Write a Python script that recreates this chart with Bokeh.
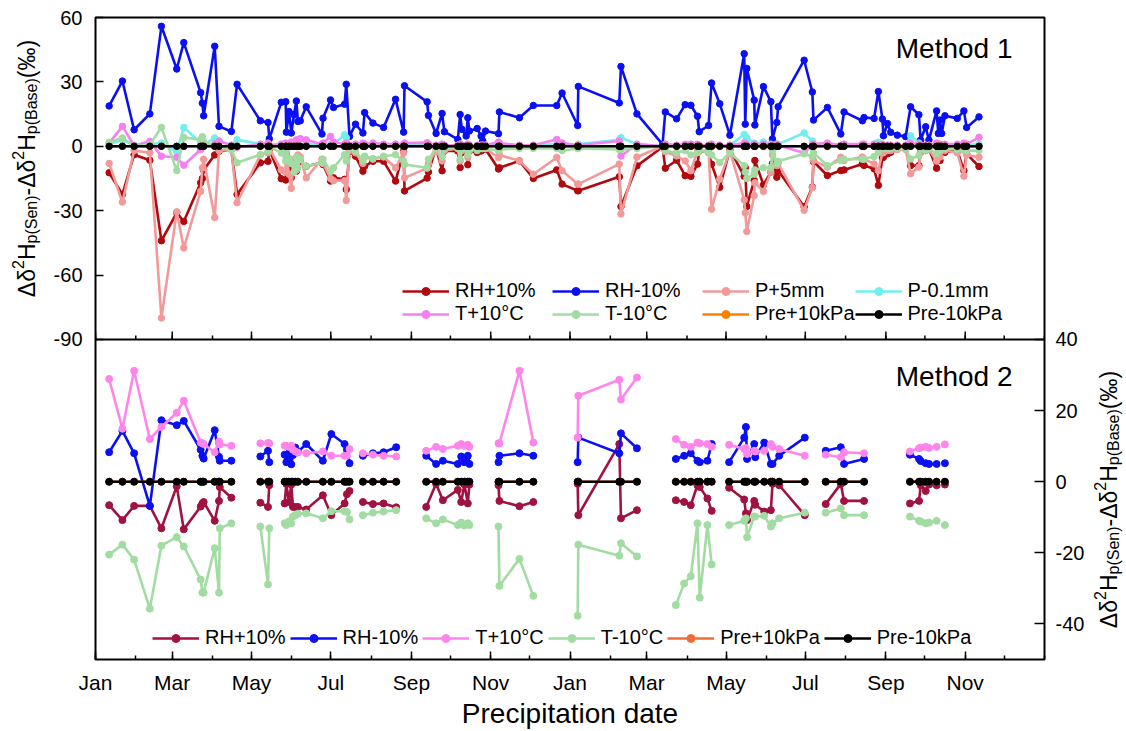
import numpy as np
import pandas as pd
from bokeh.plotting import figure
from bokeh.layouts import row
from bokeh.models import (Range1d, LinearAxis, FixedTicker, DatetimeTickFormatter,
                          CustomJSTickFormatter, Span, Label, Legend, LegendItem)
from bokeh.embed import file_html
from bokeh.resources import INLINE

FONT = "Liberation Sans"

# ---------------- data: Method 1 (days since 2017-01-01) ----------------
days_m1 = [10.5, 20.7, 29.7, 41.8, 50.7, 62.5, 67.9, 80.9, 82.2, 83.2,
           91.7, 95.0, 104.5, 108.9, 126.8, 132.7, 133.7, 142.9, 146.3, 146.8,
           148.9, 150.6, 152.7, 154.5, 155.7, 157.5, 162.1, 174.2, 175.0, 180.8,
           183.1, 191.6, 192.9, 195.4, 200.0, 205.7, 207.0, 213.4, 221.6, 230.8,
           237.0, 237.7, 255.1, 256.1, 262.0, 266.6, 268.4, 278.7, 280.5, 281.8,
           285.1, 286.4, 287.6, 293.6, 296.6, 297.9, 300.0, 310.0, 310.7, 326.1,
           336.8, 354.8, 358.9, 370.9, 371.4, 402.9, 404.2, 416.5, 436.2, 438.3,
           447.0, 453.6, 458.0, 463.1, 464.4, 471.6, 473.9, 480.2, 488.0, 499.0,
           499.8, 501.0, 506.7, 507.2, 513.8, 519.5, 520.7, 524.1, 525.1, 545.1,
           551.4, 552.3, 563.0, 573.3, 575.8, 589.9, 591.2, 598.9, 602.2, 605.3,
           606.1, 609.2, 611.7, 616.8, 623.2, 627.0, 633.4, 634.7, 638.6, 641.1,
           647.0, 648.3, 649.6, 650.9, 653.4, 662.9, 668.0, 670.1, 679.6]

rh_plus_m1 = [-12.3, -22.4, -3.9, -6.5, -44.0, -31.0, -35.0, -17.0, -15.0, -11.0,
              -4.0, -2.3, -1.5, -22.4, -7.7, -7.0, -1.5, -15.1, -15.7, -3.9,
              -10.8, -14.6, -9.3, -11.6, -6.2, -7.0, -9.3, -7.7, -8.5, -16.2,
              -14.7, -15.4, -20.1, -2.3, -4.6, -11.6, -9.3, -7.0, -7.0, -16.2,
              -2.3, -20.8, -14.8, -12.0, -0.6, -11.4, -2.2, -2.2, -9.9, -2.9,
              -1.4, -8.6, -2.2, -2.9, -2.2, -1.4, -1.4, -10.6, -10.0, -6.8,
              -15.0, -11.0, -17.6, -20.7, -20.7, -14.2, -28.1, -9.1, -0.3, -10.2,
              -6.5, -13.7, -14.0, -8.3, -2.2, -2.9, -8.3, -19.1, -1.4, -14.0,
              -10.0, -28.0, -15.9, -6.6, -18.0, -12.0, -8.0, -14.4, -11.3, -28.2,
              -19.0, -7.1, -13.6, -11.3, -11.0, -8.2, -8.9, -10.5, -18.2, -5.4,
              -5.1, -3.5, -2.8, -1.2, -1.2, -9.0, -9.0, -2.8, -2.0, -1.2,
              -10.2, -3.5, -6.6, -2.0, -2.8, -2.0, -11.3, -3.5, -9.4]

rh_minus_m1 = [18.8, 30.4, 7.7, 15.1, 55.9, 36.0, 48.3, 25.0, 20.1, 14.2,
               46.6, 9.3, 6.9, 28.9, 11.9, 11.1, 3.5, 20.5, 20.8, 6.6,
               16.2, 6.2, 14.7, 21.1, 11.6, 11.9, 18.4, 5.7, 13.1, 21.6,
               18.1, 19.6, 28.9, 4.6, 10.3, 6.2, 15.7, 10.8, 8.8, 21.9,
               6.6, 28.2, 20.7, 14.4, 6.0, 15.3, 6.8, 3.2, 14.8, 7.9,
               4.8, 13.3, 7.1, 8.3, 4.8, 2.5, 7.1, 5.9, 16.0, 13.3,
               19.0, 19.0, 24.8, 9.7, 27.9, 20.2, 37.2, 15.1, 0.9, 16.0,
               12.8, 19.4, 19.1, 14.0, 6.8, 9.7, 29.5, 19.8, 5.2, 43.1,
               10.3, 36.3, 21.5, 9.9, 27.8, 20.8, 3.4, 11.1, 18.4, 40.1,
               25.3, 12.2, 18.1, 5.7, 16.0, 11.9, 13.4, 13.0, 25.5, 12.7,
               4.9, 10.6, 6.5, 5.2, 4.5, 18.4, 14.7, 2.9, 9.1, 2.9,
               16.5, 6.0, 12.2, 6.0, 14.2, 13.0, 16.5, 8.8, 13.7]

p_plus_m1 = [-8.0, -26.0, -2.0, -3.0, -80.0, -30.5, -47.4, -21.0, -10.0, -6.0,
             -33.2, -2.0, -1.5, -26.3, -4.0, -3.0, -1.0, -11.0, -12.0, -3.0,
             -13.0, -19.6, -6.0, -11.0, -4.0, -5.0, -14.7, -6.0, -8.0, -15.0,
             -16.0, -16.0, -25.2, -2.0, -3.0, -8.0, -5.0, -6.0, -5.0, -10.0,
             -3.0, -14.7, -10.2, -8.0, -2.0, -6.8, -2.0, -1.0, -6.8, -2.0,
             -1.0, -5.2, -2.0, -1.0, -1.0, -1.0, -1.0, -5.2, -4.0, -6.8,
             -13.0, -5.2, -11.4, -17.6, -17.6, -8.3, -31.5, -5.0, 0.0, -2.5,
             -4.5, -6.8, -11.4, -2.2, -2.0, -2.0, -29.3, -15.3, -2.2, -25.0,
             -31.0, -39.7, -23.0, -17.0, -21.0, -12.0, -4.0, -9.0, -8.0, -29.8,
             -19.3, -6.6, -9.7, -5.1, -6.6, -5.0, -6.0, -8.2, -11.3, -3.0,
             -3.0, -2.0, -2.0, -1.5, -1.5, -12.8, -9.7, -3.0, -1.5, -1.5,
             -6.9, -4.0, -5.0, -2.0, -2.0, -3.0, -13.9, -4.0, -5.1]

p_minus_m1 = [1.0, 3.0, 0.5, 1.0, 1.5, -2.6, 8.8, 1.5, 2.3, 0.5,
              3.9, 2.6, 0.5, 3.1, 1.0, 1.0, 0.5, 1.0, 1.0, 0.5,
              1.0, 0.5, 1.0, 1.0, 0.5, 3.5, 1.5, 0.5, 1.0, 1.0,
              1.0, 5.4, 4.0, 0.5, 1.0, 0.5, 1.0, 1.0, 0.5, 1.0,
              0.5, 1.0, 1.0, 1.0, 0.5, 1.0, 0.5, 0.5, 1.0, 0.5,
              0.5, 1.0, 0.5, 0.5, 0.5, 0.5, 0.5, 1.0, 1.0, 0.5,
              0.5, 1.0, 1.5, 0.5, 1.0, 3.0, 4.0, 1.0, 0.0, 1.0,
              0.5, 0.5, 1.0, 0.5, 0.5, 0.5, 1.0, 0.5, 0.5, 5.5,
              2.0, 4.0, 1.5, 1.0, 2.0, 1.0, 0.5, 1.0, 1.0, 6.2,
              2.5, 1.0, 1.0, 0.5, 1.0, 0.5, 0.5, 1.0, 1.9, 0.5,
              0.5, 0.5, 0.5, 0.5, 0.5, 4.9, 1.5, 0.5, 0.5, 0.5,
              1.0, 0.5, 0.5, 0.5, 0.5, 0.5, 1.0, 0.5, 1.0]

t_plus_m1 = [1.5, 9.3, 0.3, 2.3, -4.6, -5.1, -8.8, -1.5, 0.0, 0.0,
             1.1, 2.3, 0.5, -0.5, 1.0, 1.5, 0.5, 1.0, 1.5, 0.5,
             1.0, 2.0, 1.5, 3.0, 1.0, 3.5, 3.0, 1.0, 1.5, 4.6,
             2.0, 1.0, 1.5, 0.5, 1.0, 1.5, 1.0, 1.5, 1.0, 1.0,
             1.0, 1.5, 1.7, 1.0, 0.5, 1.0, 0.5, 0.5, 1.0, 0.5,
             0.5, 1.0, 0.5, 0.5, 0.5, 0.5, 0.5, 2.0, 1.5, 0.5,
             0.5, 3.2, 1.5, 0.5, 0.5, 2.5, -4.5, 1.0, 0.0, 1.0,
             0.5, 1.0, 1.0, 1.0, 0.5, 0.5, 1.0, 0.5, 0.5, 1.5,
             0.5, 1.0, 1.0, 0.5, 1.0, 0.5, 0.5, 1.0, 0.5, -3.1,
             0.5, 1.0, 1.5, 0.5, 1.0, 1.0, 1.0, 1.0, 0.5, 1.0,
             0.5, 0.5, 0.5, 0.5, 0.5, 1.5, 1.0, 0.5, 0.5, 0.5,
             1.5, 0.5, 1.0, 0.5, 1.0, 1.0, 1.5, 1.0, 4.2]

t_minus_m1 = [1.9, 3.9, 0.0, 0.8, 8.8, -11.3, 4.2, 3.0, 4.5, 2.0,
              0.0, 0.0, -1.5, -7.7, -3.9, -2.3, 0.0, -3.1, -6.9, -1.0,
              -5.7, -8.0, -12.0, -5.0, -10.0, -6.0, -9.3, -7.7, -6.0, -11.6,
              -10.0, -3.9, -6.9, -0.8, -2.3, -6.9, -4.6, -5.7, -4.6, -3.9,
              -6.9, -8.5, -10.0, -6.0, -1.0, -5.0, -1.0, -1.0, -6.0, -1.0,
              -1.0, -4.0, -1.5, -2.0, -1.0, -1.0, -1.0, -2.0, -1.5, -1.0,
              -1.0, -1.0, -2.0, -1.0, -1.0, -1.5, -1.5, -1.0, 0.0, -2.0,
              -3.0, -2.0, -4.0, -3.0, -2.0, -3.0, -4.0, -7.6, -3.0, -9.0,
              -12.0, -15.0, -13.0, -11.0, -10.0, -10.0, -2.0, -8.0, -7.0, -3.5,
              -4.8, -3.0, -9.0, -6.6, -6.0, -6.0, -5.9, -4.8, -2.8, -1.0,
              -1.0, -1.0, -1.0, -1.0, -1.0, -5.9, -4.3, -1.0, -2.0, -1.0,
              -3.5, -2.0, -2.0, -1.0, -1.0, -1.5, -2.0, -2.0, -2.0]

pre_plus_m1 = [0.0, 0.0, 0.0, 0.0, 0.0, 0.0, 0.0, 0.0, 0.0, 0.0,
               0.0, 0.0, 0.0, 0.0, 0.0, 0.0, 0.0, 0.0, 0.0, 0.0,
               0.0, 0.0, 0.0, 0.0, 0.0, 0.0, 0.0, 0.0, 0.0, 0.0,
               0.0, 0.0, 0.0, 0.0, 0.0, 0.0, 0.0, 0.0, 0.0, 0.0,
               0.0, 0.0, 0.0, 0.0, 0.0, 0.0, 0.0, 0.0, 0.0, 0.0,
               0.0, 0.0, 0.0, 0.0, 0.0, 0.0, 0.0, 0.0, 0.0, 0.0,
               0.0, 0.0, 0.0, 0.0, 0.0, 0.0, 0.0, 0.0, 0.0, 0.0,
               0.0, 0.0, 0.0, 0.0, 0.0, 0.0, 0.0, 0.0, 0.0, 0.0,
               0.0, 0.0, 0.0, 0.0, 0.0, 0.0, 0.0, 0.0, 0.0, 0.0,
               0.0, 0.0, 0.0, 0.0, 0.0, 0.0, 0.0, 0.0, 0.0, 0.0,
               0.0, 0.0, 0.0, 0.0, 0.0, 0.0, 0.0, 0.0, 0.0, 0.0,
               0.0, 0.0, 0.0, 0.0, 0.0, 0.0, 0.0, 0.0, 0.0]
pre_minus_m1 = list(pre_plus_m1)

# ---------------- data: Method 2 (None marks a gap between runs) ----------------
days_m2 = [10.5, 20.7, 29.7, 41.8, 50.7, 62.5, 67.9, 80.9, 82.2, 83.2, 91.7, 95.0, 95.6, 104.5, None,
           126.8, 132.7, 133.7, None,
           145.5, 146.8, 148.8, 150.6, 151.9, 153.7, 155.7, 162.1, 174.9, 181.4, 191.6, 193.4, 195.4, None,
           205.7, 213.4, 221.6, 231.3, None,
           254.4, 262.0, 267.2, 278.7, 281.3, 283.8, 286.4, 287.6, None,
           310.0, 310.7, 326.1, 336.8, None,
           370.9, 371.4, 402.9, 404.2, 416.5, None,
           446.4, 452.8, 457.9, 463.0, 464.8, 470.7, 474.0, None,
           487.4, 499.0, 500.3, 501.2, 506.7, 507.5, 514.4, 519.5, 520.8, 525.9, 545.6, None,
           561.7, 573.3, 575.8, 591.2, None,
           626.5, 633.5, 634.8, 638.6, 641.2, 647.0, None,
           653.4]

rh_plus_m2 = [-6.6, -10.8, -6.8, -6.8, -13.1, -1.3, -13.4, -7.0, -6.1, -5.7, -11.0, -5.4, -1.5, -4.5, None,
              -5.9, -7.1, -1.0, None,
              -6.1, -0.6, -5.7, -0.8, -7.1, -7.1, -7.1, -7.8, -3.8, -9.4, -6.1, -3.5, -2.6, None,
              -5.7, -6.3, -6.1, -7.2, None,
              -7.1, -0.6, -5.2, -2.3, -5.7, -0.8, -6.1, -0.8, None,
              -1.0, -5.4, -6.9, -5.7, None,
              -0.6, -9.4, 10.6, -10.3, -8.0, None,
              -5.2, -5.7, -6.6, -1.0, -1.5, -4.7, -8.2, None,
              -1.7, -5.0, -8.9, -10.8, -5.4, -6.5, -8.4, -8.0, -0.6, -1.0, -9.4, None,
              -6.3, -0.6, -5.4, -5.4, None,
              -6.1, -5.4, -1.0, -2.6, -0.8, -1.0, None,
              -0.8]

rh_minus_m2 = [8.3, 14.3, 8.0, -6.8, 17.3, 15.9, 17.1, 9.0, 7.3, 6.5, 14.5, 7.0, 5.9, 5.9, None,
               7.1, 8.7, 5.5, None,
               7.6, 5.5, 8.0, 4.9, 7.5, 9.6, 8.4, 10.6, 5.9, 13.4, 10.6, 9.0, 5.2, None,
               7.3, 8.0, 8.3, 9.7, None,
               7.3, 5.0, 5.9, 5.0, 7.1, 5.5, 7.3, 5.0, None,
               5.5, 7.3, 8.0, 7.3, None,
               5.5, 12.4, 8.0, 13.6, 9.4, None,
               6.4, 7.3, 8.0, 5.9, 5.5, 5.9, 10.6, None,
               5.5, 12.4, 15.4, 6.4, 10.6, 6.9, 11.0, 5.0, 5.0, 7.3, 12.4, None,
               8.7, 9.7, 5.0, 6.4, None,
               7.6, 6.4, 5.8, 5.2, 5.0, 5.0, None,
               5.2]

t_plus_m2 = [28.9, 14.9, 31.2, 12.0, 15.4, 19.4, 22.8, 11.0, 10.8, 10.6, 8.3, 11.3, 10.5, 10.1, None,
             10.8, 10.9, 10.8, None,
             10.1, 10.1, 9.8, 10.1, 9.0, 8.5, 8.2, 8.0, 8.5, 7.3, 7.3, 7.3, 9.2, None,
             8.0, 7.6, 7.3, 7.1, None,
             8.7, 9.8, 9.2, 10.1, 10.6, 10.1, 10.4, 9.8, None,
             10.8, 10.8, 31.2, 11.0, None,
             12.4, 24.2, 28.7, 23.1, 29.3, None,
             12.0, 10.4, 9.8, 11.0, 10.8, 10.6, 9.8, None,
             10.4, 9.2, 9.5, 7.8, 8.7, 8.5, 8.7, 10.6, 9.8, 9.2, 7.3, None,
             7.6, 6.9, 8.3, 8.0, None,
             8.5, 9.4, 9.6, 9.8, 9.5, 9.8, None,
             10.5]

t_minus_m2 = [-20.5, -17.7, -21.9, -35.7, -18.0, -15.6, -18.2, -27.5, -31.2, -31.2, -18.7, -31.2, -13.1, -11.7, None,
              -12.6, -28.9, -13.1, None,
              -11.7, -12.2, -11.2, -11.7, -9.8, -9.4, -9.0, -8.9, -10.3, -8.3, -8.3, -8.5, -10.6, None,
              -9.4, -8.7, -8.4, -8.0, None,
              -10.3, -11.7, -10.6, -12.2, -11.5, -12.3, -11.7, -12.2, None,
              -12.6, -29.3, -21.7, -32.1, None,
              -37.7, -17.7, -20.8, -17.3, -21.0, None,
              -34.7, -28.6, -26.6, -11.7, -32.6, -12.2, -23.3, None,
              -12.2, -11.0, -10.3, -15.6, -9.8, -9.8, -9.6, -12.6, -11.7, -10.3, -8.7, None,
              -8.7, -7.5, -9.4, -9.4, None,
              -9.8, -11.0, -11.2, -11.7, -11.5, -11.0, None,
              -12.2]

pre_plus_m2 = [0.0, 0.0, 0.0, 0.0, 0.0, 0.0, 0.0, 0.0, 0.0, 0.0, 0.0, 0.0, 0.0, 0.0, None,
               0.0, 0.0, 0.0, None,
               0.0, 0.0, 0.0, 0.0, 0.0, 0.0, 0.0, 0.0, 0.0, 0.0, 0.0, 0.0, 0.0, None,
               0.0, 0.0, 0.0, 0.0, None,
               0.0, 0.0, 0.0, 0.0, 0.0, 0.0, 0.0, 0.0, None,
               0.0, 0.0, 0.0, 0.0, None,
               0.0, 0.0, 0.0, 0.0, 0.0, None,
               0.0, 0.0, 0.0, 0.0, 0.0, 0.0, 0.0, None,
               0.0, 0.0, 0.0, 0.0, 0.0, 0.0, 0.0, 0.0, 0.0, 0.0, 0.0, None,
               0.0, 0.0, 0.0, 0.0, None,
               0.0, 0.0, 0.0, 0.0, 0.0, 0.0, None,
               0.0]
pre_minus_m2 = list(pre_plus_m2)

labels_m1 = ["RH+10%", "RH-10%", "P+5mm", "P-0.1mm", "T+10°C", "T-10°C", "Pre+10kPa", "Pre-10kPa"]
labels_m2 = ["RH+10%", "RH-10%", "T+10°C", "T-10°C", "Pre+10kPa", "Pre-10kPa"]
yticks_m1 = [-90, -60, -30, 0, 30, 60]
yticks_m2 = [-40, -20, 0, 20, 40]

# ---------------- styles ----------------
colors_m1 = ["#B0090E", "#0A10F2", "#F29A9A", "#72EEEE", "#F57EF2", "#A2DCA2", "#FF8000", "#000000"]
colors_m2 = ["#A0123F", "#0A10F2", "#FF85EA", "#A2DCA2", "#F26B3A", "#000000"]

start = pd.Timestamp("2017-01-01")
end = pd.Timestamp("2019-01-01")
start_ms = start.value / 1e6
DAY_MS = 86400000.0


def to_ms(days):
    return start_ms + np.array(days, dtype=float) * DAY_MS


def arr(v):
    return np.array(v, dtype=float)


HGT = 731
LEFT_W, MAIN_W, RIGHT_W = 50, 1040, 36
FRAME_TOP, FRAME_BOTTOM = 17, 663   # page rows of the plot frame

# frame geometry: two stacked panels inside one frame
TOP_PX, BOT_PX = 324, 322
top_lo = -90 - (60 - (-90)) * BOT_PX / TOP_PX
bot_hi = 40 + (40 - (-50)) * TOP_PX / BOT_PX

p = figure(width=MAIN_W, height=HGT, x_axis_type="datetime", output_backend="svg",
           toolbar_location=None,
           x_range=Range1d(start_ms, end.value / 1e6),
           y_range=Range1d(top_lo, 60),
           min_border_left=45, min_border_right=46, min_border_top=FRAME_TOP,
           min_border_bottom=HGT - FRAME_BOTTOM)
p.extra_y_ranges = {"bot": Range1d(-50, bot_hi)}
p.xgrid.visible = False
p.ygrid.visible = False
p.outline_line_color = "black"
p.outline_line_width = 2
p.background_fill_color = "white"
p.border_fill_color = "white"

# left axis (Method 1)
ly = p.yaxis[0]
ly.ticker = FixedTicker(ticks=yticks_m1)
ly.formatter = CustomJSTickFormatter(code="return String(Math.round(tick));")
ly.axis_line_color = None
ly.major_tick_in = 8
ly.major_tick_out = 0
ly.minor_tick_line_color = None
ly.major_tick_line_width = 1.5
ly.major_label_standoff = 13
ly.major_label_text_font = FONT
ly.major_label_text_font_size = "20px"
ly.major_label_text_color = "black"

# right axis (Method 2)
ry = LinearAxis(y_range_name="bot", ticker=FixedTicker(ticks=yticks_m2),
                formatter=CustomJSTickFormatter(code="return String(Math.round(tick));"))
ry.axis_line_color = None
ry.major_tick_in = 10
ry.major_tick_out = 0
ry.minor_tick_line_color = None
ry.major_tick_line_width = 1.5
ry.major_label_standoff = 11
ry.major_label_text_font = FONT
ry.major_label_text_font_size = "20px"
ry.major_label_text_color = "black"
p.add_layout(ry, "right")

# bottom date axis
months = pd.date_range(start, end, freq="MS")
major_ms = [m.value / 1e6 for m in months if m.month % 2 == 1 and m < end]
minor_ms = [m.value / 1e6 for m in months]
bx = p.xaxis[0]
bx.ticker = FixedTicker(ticks=major_ms, minor_ticks=minor_ms)
bx.formatter = DatetimeTickFormatter(months="%b", days="%b", years="%b", hours="%b",
                                     minutes="%b", seconds="%b", milliseconds="%b",
                                     microseconds="%b", minsec="%b", hourmin="%b")
bx.axis_line_color = None
bx.major_tick_in = 8
bx.major_tick_out = 0
bx.minor_tick_in = 4
bx.minor_tick_out = 0
bx.major_tick_line_width = 1.5
bx.minor_tick_line_width = 1.5
bx.major_label_standoff = 11
bx.major_label_text_font = FONT
bx.major_label_text_font_size = "21px"
bx.major_label_text_color = "black"
bx.axis_label = "Precipitation date"
bx.axis_label_text_font = FONT
bx.axis_label_text_font_size = "28px"
bx.axis_label_text_font_style = "normal"
bx.axis_label_text_color = "black"
bx.axis_label_standoff = 1

# separator between panels and its inward ticks (top panel's lower axis)
p.add_layout(Span(location=-90, dimension="width", line_color="black", line_width=2))
px_top = (60 - top_lo) / (TOP_PX + BOT_PX)  # data units per pixel (top scale)
maj_x = np.array(major_ms)
min_x = np.array(minor_ms)
p.segment(x0=maj_x, y0=np.full(len(maj_x), -90.0), x1=maj_x,
          y1=np.full(len(maj_x), -90.0 + 8 * px_top), line_color="black", line_width=1.5)
p.segment(x0=min_x, y0=np.full(len(min_x), -90.0), x1=min_x,
          y1=np.full(len(min_x), -90.0 + 4 * px_top), line_color="black", line_width=1.5)

# ---------------- Method 1 series ----------------
x1 = to_ms(days_m1)
series_m1 = [rh_plus_m1, rh_minus_m1, p_plus_m1, p_minus_m1, t_plus_m1, t_minus_m1,
             pre_plus_m1, pre_minus_m1]
items1 = []
for lab, vals, col in zip(labels_m1, series_m1, colors_m1):
    assert len(vals) == len(days_m1)
    lr = p.line(x1, arr(vals), line_color=col, line_width=2.6)
    sr = p.scatter(x1, arr(vals), marker="circle", size=6.5, fill_color=col, line_color=col)
    items1.append(LegendItem(label=lab, renderers=[lr, sr]))

# ---------------- Method 2 series ----------------
x2 = to_ms(days_m2)
series_m2 = [rh_plus_m2, rh_minus_m2, t_plus_m2, t_minus_m2, pre_plus_m2, pre_minus_m2]
items2 = []
for lab, vals, col in zip(labels_m2, series_m2, colors_m2):
    assert len(vals) == len(days_m2)
    lr = p.line(x2, arr(vals), line_color=col, line_width=2.6, y_range_name="bot")
    sr = p.scatter(x2, arr(vals), marker="circle", size=7, fill_color=col, line_color=col,
                   y_range_name="bot")
    items2.append(LegendItem(label=lab, renderers=[lr, sr]))


def style_legend(lg):
    lg.glyph_width = 47
    lg.glyph_height = 20
    lg.label_standoff = 6
    lg.label_text_font = FONT
    lg.label_text_font_size = "20px"
    lg.label_text_color = "black"
    lg.label_height = 20
    lg.padding = 0
    lg.margin = 0
    lg.border_line_alpha = 0
    lg.background_fill_alpha = 0


leg1 = Legend(items=items1, location=(307, 334), orientation="horizontal", ncols=4)
style_legend(leg1)
leg1.spacing = 0
leg1.label_width = 97
p.add_layout(leg1, "center")

leg2 = Legend(items=items2, location=(57, 10), orientation="horizontal")
style_legend(leg2)
leg2.spacing = 4
p.add_layout(leg2, "center")

# panel titles
p.add_layout(Label(x=917, y=611, x_units="screen", y_units="screen", text="Method 1",
                   text_font=FONT, text_font_size="28px", text_align="right",
                   text_baseline="alphabetic", text_color="black"))
p.add_layout(Label(x=917, y=283, x_units="screen", y_units="screen", text="Method 2",
                   text_font=FONT, text_font_size="28px", text_align="right",
                   text_baseline="alphabetic", text_color="black"))

# ---------------- y-axis titles with sub/superscripts (side strips) ----------------
CW = {"Δ": 0.668, "δ": 0.556, "2": 0.556, "H": 0.722, "p": 0.556, "(": 0.333, ")": 0.333,
      "S": 0.667, "e": 0.556, "n": 0.556, "-": 0.333, "B": 0.667, "a": 0.556, "s": 0.5,
      "‰": 1.0}


def tw(s, size):
    return sum(CW.get(c, 0.556) for c in s) * size


def strip(width):
    f = figure(width=width, height=HGT, output_backend="svg", toolbar_location=None,
               x_range=Range1d(0, width), y_range=Range1d(0, HGT),
               x_axis_location=None, y_axis_location=None,
               min_border_left=0, min_border_right=0, min_border_top=0, min_border_bottom=0)
    f.xgrid.visible = False
    f.ygrid.visible = False
    f.outline_line_color = None
    f.background_fill_color = "white"
    f.border_fill_color = "white"
    return f


def add_ylabel(fig, x_base, page_y_center, F, f, sup, sub):
    # the strip's frame is aligned with the main frame in the row layout
    y_center = FRAME_BOTTOM - page_y_center
    pieces = [("Δδ", F, 0), ("2", f, sup), ("H", F, 0), ("p(Sen)", f, -sub),
              ("-Δδ", F, 0), ("2", f, sup), ("H", F, 0), ("p(Base)", f, -sub), ("(‰)", F, 0)]
    total = sum(tw(s, sz) for s, sz, _ in pieces)
    y = y_center - total / 2
    for s, sz, sh in pieces:
        fig.add_layout(Label(x=x_base - sh, y=y, x_units="screen", y_units="screen", text=s,
                             angle=np.pi / 2, text_font=FONT, text_font_size=f"{sz}px",
                             text_align="left", text_baseline="alphabetic", text_color="black"))
        y += tw(s, sz)


left_strip = strip(LEFT_W)
add_ylabel(left_strip, 26, 172, 23, 16, 9, 5)
right_strip = strip(RIGHT_W)
add_ylabel(right_strip, 18, 503, 23, 16, 9, 5)

layout = row(left_strip, p, right_strip, spacing=0)
open("out.html", "w").write(file_html(layout, INLINE))
